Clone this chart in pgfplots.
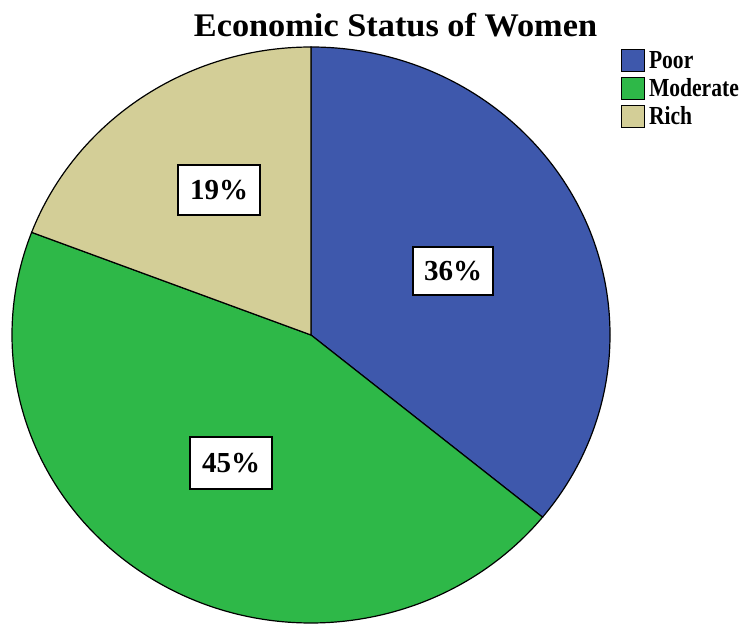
\documentclass[border=0pt]{standalone}
\usepackage{graphicx}
\usepackage{pgfplots}
\usepackage{pgfplotstable}
\pgfplotsset{compat=1.18}
\usepackage{fontspec}
\setmainfont{Liberation Serif}
\definecolor{cPoor}{HTML}{3E58AC}
\definecolor{cModerate}{HTML}{2EB848}
\definecolor{cRich}{HTML}{D3CE97}
\pgfplotstableread{
label value
Poor 35.9
Moderate 44.9
Rich 19.2
}\piedata
\begin{document}
\begin{tikzpicture}
\pgfplotstablegetelem{0}{value}\of\piedata \let\vA\pgfplotsretval
\pgfplotstablegetelem{1}{value}\of\piedata \let\vB\pgfplotsretval
\pgfplotstablegetelem{2}{value}\of\piedata \let\vC\pgfplotsretval
\pgfmathsetmacro\aA{90}
\pgfmathsetmacro\aB{90-3.6*\vA}
\pgfmathsetmacro\aC{\aB-3.6*\vB}
\pgfmathsetmacro\aD{\aC-3.6*\vC}
\def\cx{311}\def\cy{289}\def\rx{299}\def\ry{288}
\begin{axis}[
  scale only axis, width=748pt, height=624pt,
  xmin=0, xmax=748, ymin=0, ymax=624,
  hide axis, clip=false,
  legend style={at={(axis cs:621,576)}, anchor=north west, draw=none, fill=none,
    inner sep=0pt, font=\fontsize{26}{26}\selectfont\bfseries,
    row sep=4pt, column sep=3pt, cells={anchor=west},
    nodes={text height=19pt, text depth=3pt, inner sep=1pt}},
  legend image code/.code={\draw[#1] (0pt,-11pt) rectangle (23pt,11pt);},
]
\path (axis cs:0,0) (axis cs:748,624);
\filldraw[fill=cPoor, draw=black, line width=1.2pt] (axis cs:\cx,\cy) -- (axis cs:{\cx+\rx*cos(\aA)},{\cy+\ry*sin(\aA)}) arc[start angle=\aA, end angle=\aB, x radius=\rx, y radius=\ry] -- cycle;
\filldraw[fill=cModerate, draw=black, line width=1.2pt] (axis cs:\cx,\cy) -- (axis cs:{\cx+\rx*cos(\aB)},{\cy+\ry*sin(\aB)}) arc[start angle=\aB, end angle=\aC, x radius=\rx, y radius=\ry] -- cycle;
\filldraw[fill=cRich, draw=black, line width=1.2pt] (axis cs:\cx,\cy) -- (axis cs:{\cx+\rx*cos(\aC)},{\cy+\ry*sin(\aC)}) arc[start angle=\aC, end angle=\aD, x radius=\rx, y radius=\ry] -- cycle;
\addlegendimage{fill=cPoor, draw=black, line width=0.8pt}
\addlegendentry{\scalebox{0.83}[1]{Poor}}
\addlegendimage{fill=cModerate, draw=black, line width=0.8pt}
\addlegendentry{\scalebox{0.83}[1]{Moderate}}
\addlegendimage{fill=cRich, draw=black, line width=0.8pt}
\addlegendentry{\scalebox{0.83}[1]{Rich}}
\node[draw=black, fill=white, line width=1.2pt, minimum width=82pt, minimum height=50pt, font=\fontsize{29}{30}\selectfont\bfseries] at (axis cs:219,434) {19\%};
\node[draw=black, fill=white, line width=1.2pt, minimum width=80pt, minimum height=48pt, font=\fontsize{29}{30}\selectfont\bfseries] at (axis cs:453,353) {36\%};
\node[draw=black, fill=white, line width=1.2pt, minimum width=82pt, minimum height=52pt, font=\fontsize{29}{30}\selectfont\bfseries] at (axis cs:231,161) {45\%};
\node[anchor=base, font=\fontsize{33}{36}\selectfont\bfseries] at (axis cs:395.5,587) {\scalebox{1.04}[1]{Economic Status of Women}};
\end{axis}
\pgfresetboundingbox
\useasboundingbox (current axis.south west) rectangle (current axis.north east);
\end{tikzpicture}
\end{document}
